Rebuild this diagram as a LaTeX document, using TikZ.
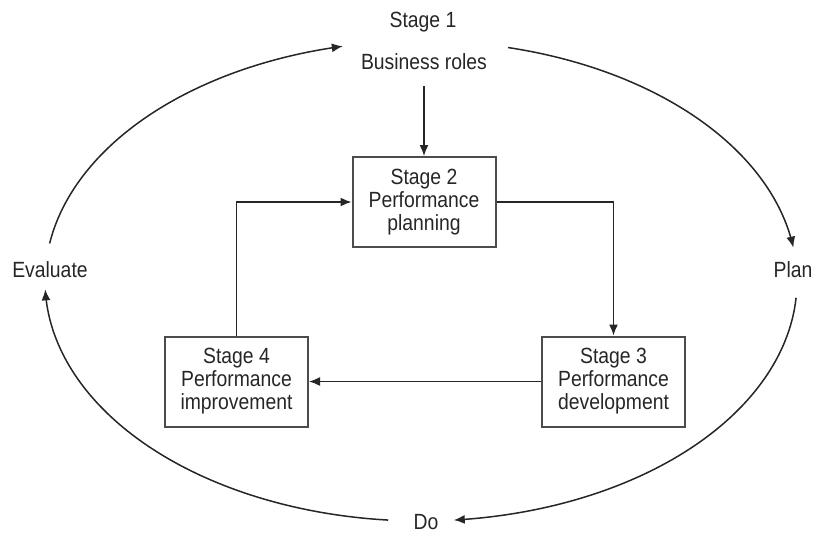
\documentclass[tikz,border=0pt]{standalone}
\usepackage{fontspec}
\setmainfont{Liberation Sans}[FakeStretch=0.88]
\usetikzlibrary{arrows.meta}

\begin{document}
\begin{tikzpicture}[x=1pt, y=-1pt,
  every node/.style={font=\fontsize{22}{23}\selectfont, text=black!85},
  stagebox/.style={draw=black!70, line width=2pt, minimum width=143pt,
    minimum height=90pt, inner sep=2pt, align=center},
  label/.style={inner sep=0pt, align=center},
  arr/.style={draw=black!85, line width=1.5pt,
    -{Latex[length=11pt, width=9pt]}},
  cycle/.style={draw=black!85, line width=1.5pt,
    -{Latex[length=11pt, width=9pt]}}
]
\useasboundingbox (0,0) rectangle (816,536);

% outer cycle labels
\node[label] (s1)   at (423,22)  {Stage 1};
\node[label] (br)   at (424,62)  {Business roles};
\node[label] (eval) at (50,270)  {Evaluate};
\node[label] (plan) at (793,270) {Plan};
\node[label] (do)   at (426,522) {Do};

% inner stage boxes
\node[stagebox] (b2) at (424,202)   {Stage 2\\Performance\\planning};
\node[stagebox] (b3) at (613.5,381.5) {Stage 3\\Performance\\development};
\node[stagebox] (b4) at (236.5,381.5) {Stage 4\\Performance\\improvement};

% inner connectors
\coordinate (brfoot) at (424,86);
\draw[arr] (brfoot) -- (b2.north);
\draw[arr] (b2.east) -| (b3.north);
\draw[arr] (b3.west) -- (b4.east);
\draw[arr] (b4.north) |- (b2.west);

% outer elliptical arcs (centre 421,281; radii 376 x 240)
\def\ecx{421}\def\ecy{281}\def\erx{376}\def\ery{240}
\draw[cycle] plot[domain=171:102, samples=60, smooth]
  ({\ecx+\erx*cos(\x)}, {\ecy-\ery*sin(\x)});
\draw[cycle] plot[domain=76.6:8, samples=60, smooth]
  ({\ecx+\erx*cos(\x)}, {\ecy-\ery*sin(\x)});
\draw[cycle] plot[domain=-4:-85, samples=60, smooth]
  ({\ecx+\erx*cos(\x)}, {\ecy-\ery*sin(\x)});
\draw[cycle] plot[domain=-95:-178, samples=60, smooth]
  ({\ecx+\erx*cos(\x)}, {\ecy-\ery*sin(\x)});
\end{tikzpicture}
\end{document}
